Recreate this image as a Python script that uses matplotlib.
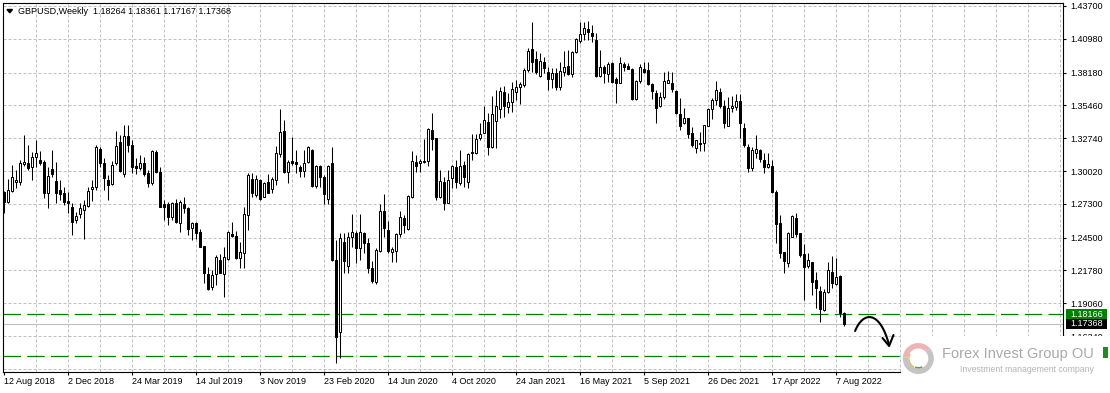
import numpy as np
import matplotlib.pyplot as plt
from matplotlib.patches import Rectangle, Wedge, Polygon, PathPatch
from matplotlib.path import Path
import matplotlib.transforms as mtransforms

W, H = 1110, 393

symbol = "GBPUSD,Weekly"

# weekly candles, first bar = week of 12 Aug 2018
opens = [
    1.2831, 1.2748, 1.2840, 1.2915, 1.2914, 1.3062, 1.3072, 1.3033, 1.3116, 1.3092,
    1.3074, 1.2823, 1.3019, 1.2920, 1.2845, 1.2823, 1.2754, 1.2701, 1.2596, 1.2643,
    1.2680, 1.2715, 1.2852, 1.2867, 1.3182, 1.3066, 1.2928, 1.2895, 1.3071, 1.3246,
    1.2978, 1.3290, 1.3218, 1.3044, 1.3030, 1.3066, 1.2989, 1.2906, 1.3160, 1.2997,
    1.2726, 1.2729, 1.2624, 1.2734, 1.2574, 1.2726, 1.2696, 1.2527, 1.2569, 1.2494,
    1.2381, 1.2149, 1.2038, 1.2146, 1.2265, 1.2149, 1.2270, 1.2478, 1.2464, 1.2284,
    1.2320, 1.2638, 1.2936, 1.2803, 1.2928, 1.2790, 1.2909, 1.2850, 1.2924, 1.3145,
    1.3334, 1.2997, 1.3085, 1.3080, 1.3038, 1.3002, 1.3074, 1.3177, 1.2881, 1.3044,
    1.2950, 1.2768, 1.3066, 1.2265, 1.1665, 1.2411, 1.2218, 1.2453, 1.2491, 1.2362,
    1.2486, 1.2403, 1.2200, 1.2080, 1.2342, 1.2671, 1.2514, 1.2331, 1.2342, 1.2478,
    1.2610, 1.2519, 1.2784, 1.3080, 1.3066, 1.3080, 1.3085, 1.3342, 1.3273, 1.2784,
    1.2914, 1.2740, 1.2942, 1.3033, 1.2900, 1.3052, 1.2914, 1.3160, 1.3149, 1.3273,
    1.3320, 1.3411, 1.3204, 1.3420, 1.3520, 1.3654, 1.3536, 1.3572, 1.3660, 1.3701,
    1.3715, 1.3840, 1.4014, 1.3931, 1.3793, 1.3903, 1.3826, 1.3765, 1.3812, 1.3701,
    1.3820, 1.3875, 1.3804, 1.3986, 1.4080, 1.4135, 1.4177, 1.4143, 1.4088, 1.3790,
    1.3867, 1.3806, 1.3895, 1.3765, 1.3729, 1.3889, 1.3873, 1.3848, 1.3599, 1.3751,
    1.3845, 1.3840, 1.3724, 1.3652, 1.3541, 1.3613, 1.3735, 1.3729, 1.3666, 1.3472,
    1.3398, 1.3439, 1.3320, 1.3190, 1.3237, 1.3237, 1.3375, 1.3514, 1.3591, 1.3655,
    1.3541, 1.3378, 1.3527, 1.3536, 1.3586, 1.3360, 1.3204, 1.3030, 1.3155, 1.3177,
    1.3094, 1.3038, 1.3047, 1.2826, 1.2569, 1.2328, 1.2237, 1.2458, 1.2610, 1.2486,
    1.2315, 1.2218, 1.2245, 1.2099, 1.2011, 1.1850, 1.1997, 1.2163, 1.2063, 1.2132,
    1.18264,
]
highs = [
    1.2840, 1.2935, 1.3050, 1.3010, 1.3094, 1.3300, 1.3215, 1.3160, 1.3258, 1.3165,
    1.3094, 1.3038, 1.3177, 1.3074, 1.2928, 1.2873, 1.2831, 1.2735, 1.2665, 1.2735,
    1.2762, 1.2870, 1.2925, 1.3218, 1.3204, 1.3107, 1.2969, 1.3088, 1.3337, 1.3300,
    1.3384, 1.3380, 1.3260, 1.3107, 1.3135, 1.3116, 1.3011, 1.3177, 1.3177, 1.3038,
    1.2762, 1.2748, 1.2748, 1.2768, 1.2762, 1.2784, 1.2707, 1.2583, 1.2583, 1.2519,
    1.2383, 1.2210, 1.2182, 1.2306, 1.2314, 1.2375, 1.2506, 1.2583, 1.2506, 1.2417,
    1.2707, 1.2983, 1.2983, 1.2969, 1.2936, 1.2914, 1.2976, 1.2955, 1.3212, 1.3514,
    1.3425, 1.3094, 1.3287, 1.3177, 1.3052, 1.3177, 1.3210, 1.3182, 1.3052, 1.3052,
    1.2969, 1.3052, 1.3199, 1.2431, 1.2486, 1.2486, 1.2494, 1.2643, 1.2508, 1.2646,
    1.2500, 1.2445, 1.2260, 1.2361, 1.2729, 1.2812, 1.2591, 1.2375, 1.2486, 1.2671,
    1.2638, 1.2804, 1.3171, 1.3135, 1.3102, 1.3268, 1.3356, 1.3486, 1.3273, 1.3011,
    1.2956, 1.3011, 1.3052, 1.3094, 1.3177, 1.3085, 1.3149, 1.3309, 1.3309, 1.3398,
    1.3541, 1.3480, 1.3620, 1.3674, 1.3701, 1.3705, 1.3650, 1.3743, 1.3757, 1.3743,
    1.3859, 1.4019, 1.4240, 1.3997, 1.3978, 1.3950, 1.3867, 1.3853, 1.3853, 1.3909,
    1.4000, 1.4005, 1.3997, 1.4107, 1.4240, 1.4235, 1.4248, 1.4213, 1.4143, 1.4005,
    1.3881, 1.3909, 1.3909, 1.3784, 1.3950, 1.3909, 1.3895, 1.3853, 1.3757, 1.3889,
    1.3909, 1.3909, 1.3729, 1.3674, 1.3660, 1.3826, 1.3834, 1.3826, 1.3674, 1.3605,
    1.3522, 1.3439, 1.3364, 1.3259, 1.3328, 1.3384, 1.3522, 1.3605, 1.3751, 1.3688,
    1.3591, 1.3619, 1.3624, 1.3638, 1.3638, 1.3400, 1.3226, 1.3204, 1.3301, 1.3182,
    1.3149, 1.3149, 1.3094, 1.2845, 1.2638, 1.2334, 1.2500, 1.2638, 1.2657, 1.2491,
    1.2400, 1.2326, 1.2251, 1.2168, 1.2049, 1.2022, 1.2251, 1.2301, 1.2279, 1.2141,
    1.18361,
]
lows = [
    1.2657, 1.2735, 1.2831, 1.2860, 1.2886, 1.3040, 1.3010, 1.2925, 1.3036, 1.3050,
    1.2776, 1.2693, 1.2955, 1.2735, 1.2762, 1.2721, 1.2652, 1.2472, 1.2569, 1.2610,
    1.2440, 1.2702, 1.2750, 1.2845, 1.3038, 1.2845, 1.2762, 1.2887, 1.3052, 1.2997,
    1.2955, 1.3160, 1.2983, 1.2978, 1.3011, 1.2961, 1.2867, 1.2886, 1.2983, 1.2700,
    1.2596, 1.2555, 1.2596, 1.2569, 1.2500, 1.2652, 1.2472, 1.2431, 1.2436, 1.2370,
    1.2071, 1.2016, 1.2016, 1.2058, 1.2154, 1.1955, 1.2265, 1.2458, 1.2270, 1.2196,
    1.2196, 1.2514, 1.2790, 1.2790, 1.2762, 1.2784, 1.2817, 1.2823, 1.2886, 1.3120,
    1.2989, 1.2900, 1.3052, 1.2983, 1.2950, 1.2955, 1.3066, 1.2873, 1.2859, 1.2873,
    1.2729, 1.2729, 1.2259, 1.1408, 1.1450, 1.2160, 1.2160, 1.2375, 1.2243, 1.2265,
    1.2320, 1.2160, 1.2075, 1.2066, 1.2334, 1.2458, 1.2320, 1.2251, 1.2251, 1.2458,
    1.2486, 1.2514, 1.2776, 1.2997, 1.2997, 1.3066, 1.3044, 1.3177, 1.2762, 1.2776,
    1.2679, 1.2735, 1.2859, 1.2859, 1.2886, 1.2873, 1.2859, 1.3094, 1.3140, 1.3260,
    1.3315, 1.3135, 1.3190, 1.3190, 1.3439, 1.3453, 1.3480, 1.3494, 1.3591, 1.3555,
    1.3701, 1.3820, 1.3826, 1.3804, 1.3784, 1.3812, 1.3674, 1.3688, 1.3674, 1.3674,
    1.3793, 1.3798, 1.3784, 1.3978, 1.4061, 1.4088, 1.4088, 1.4074, 1.3779, 1.3784,
    1.3729, 1.3743, 1.3735, 1.3563, 1.3729, 1.3834, 1.3845, 1.3591, 1.3591, 1.3735,
    1.3817, 1.3715, 1.3597, 1.3403, 1.3536, 1.3597, 1.3729, 1.3660, 1.3472, 1.3342,
    1.3392, 1.3273, 1.3204, 1.3154, 1.3171, 1.3171, 1.3375, 1.3431, 1.3550, 1.3522,
    1.3356, 1.3375, 1.3494, 1.3508, 1.3273, 1.3204, 1.2997, 1.3005, 1.3107, 1.3080,
    1.2983, 1.3025, 1.2817, 1.2403, 1.2279, 1.2154, 1.2210, 1.2453, 1.2458, 1.2292,
    1.1930, 1.2201, 1.1975, 1.1864, 1.1754, 1.1845, 1.1989, 1.2030, 1.2058, 1.1790,
    1.17167,
]
closes = [
    1.2748, 1.2845, 1.2956, 1.2925, 1.3066, 1.3075, 1.3030, 1.3116, 1.3150, 1.3070,
    1.2823, 1.2961, 1.2975, 1.2817, 1.2809, 1.2748, 1.2735, 1.2583, 1.2629, 1.2693,
    1.2722, 1.2837, 1.2872, 1.3199, 1.3072, 1.2942, 1.2887, 1.3052, 1.3210, 1.3002,
    1.3290, 1.3218, 1.3038, 1.3030, 1.3066, 1.2978, 1.2906, 1.3171, 1.2997, 1.2707,
    1.2707, 1.2624, 1.2734, 1.2583, 1.2743, 1.2693, 1.2519, 1.2569, 1.2491, 1.2375,
    1.2154, 1.2022, 1.2141, 1.2292, 1.2160, 1.2287, 1.2500, 1.2464, 1.2284, 1.2328,
    1.2643, 1.2969, 1.2817, 1.2933, 1.2770, 1.2906, 1.2823, 1.2935, 1.3150, 1.3323,
    1.2997, 1.3077, 1.3066, 1.3058, 1.3005, 1.3071, 1.3199, 1.2881, 1.3044, 1.2955,
    1.2809, 1.3044, 1.2265, 1.1629, 1.2444, 1.2259, 1.2458, 1.2494, 1.2362, 1.2494,
    1.2403, 1.2200, 1.2091, 1.2348, 1.2671, 1.2533, 1.2342, 1.2353, 1.2481, 1.2624,
    1.2555, 1.2795, 1.3085, 1.3044, 1.3085, 1.3085, 1.3348, 1.3268, 1.2790, 1.2919,
    1.2735, 1.2928, 1.3044, 1.2909, 1.3044, 1.2950, 1.3140, 1.3150, 1.3265, 1.3309,
    1.3425, 1.3204, 1.3472, 1.3544, 1.3665, 1.3544, 1.3572, 1.3682, 1.3701, 1.3721,
    1.3840, 1.3997, 1.3909, 1.3820, 1.3914, 1.3853, 1.3765, 1.3812, 1.3701, 1.3831,
    1.3867, 1.3804, 1.3986, 1.4096, 1.4135, 1.4185, 1.4157, 1.4124, 1.3790, 1.3867,
    1.3812, 1.3889, 1.3743, 1.3735, 1.3895, 1.3867, 1.3851, 1.3597, 1.3748, 1.3862,
    1.3826, 1.3724, 1.3668, 1.3522, 1.3613, 1.3748, 1.3757, 1.3679, 1.3486, 1.3375,
    1.3445, 1.3309, 1.3218, 1.3259, 1.3224, 1.3384, 1.3516, 1.3591, 1.3674, 1.3541,
    1.3398, 1.3527, 1.3541, 1.3583, 1.3403, 1.3215, 1.3030, 1.3177, 1.3182, 1.3099,
    1.3038, 1.3060, 1.2826, 1.2561, 1.2326, 1.2259, 1.2486, 1.2629, 1.2480, 1.2306,
    1.2210, 1.2265, 1.2085, 1.2030, 1.1859, 1.1997, 1.2182, 1.2071, 1.2121, 1.1823,
    1.17368,
]

# one date label every 16 weeks
date_labels = ["12 Aug 2018", "2 Dec 2018", "24 Mar 2019", "14 Jul 2019", "3 Nov 2019",
               "23 Feb 2020", "14 Jun 2020", "4 Oct 2020", "24 Jan 2021", "16 May 2021",
               "5 Sep 2021", "26 Dec 2021", "17 Apr 2022", "7 Aug 2022"]
price_ticks = [1.43700, 1.40980, 1.38180, 1.35460, 1.32740, 1.30020, 1.27300,
               1.24500, 1.21780, 1.19060, 1.16340]
extra_grid = [1.13620]
level_line = 1.18166
support_line = 1.14716

plt.rcParams['font.family'] = ['Liberation Sans', 'DejaVu Sans']
plt.rcParams['font.size'] = 6.5

o = np.array(opens)
h = np.array(highs)
l = np.array(lows)
c = np.array(closes)
idx = np.arange(len(o))
up = c >= o

fig = plt.figure(figsize=(W / 100, H / 100), dpi=100)
ax = fig.add_axes([2.5 / W, (H - 371.5) / H, 1060.5 / W, 369 / H])
ax.set_xlim(-0.25, 264.875)
ax.set_ylim(1.13407, 1.43990)

# grid
grid_kw = dict(color='#c0c0c0', lw=0.72, ls=(0, (3, 2)), zorder=0.5)
for p in price_ticks + extra_grid:
    ax.axhline(p, **grid_kw)
for i in range(8, 265, 8):
    ax.axvline(i, **grid_kw)

# levels
ax.axhline(level_line, color='#008000', lw=0.9, ls=(0, (14, 5)), zorder=1)
ax.axhline(support_line, color='#008000', lw=0.9, ls=(0, (14, 5)), zorder=1)
ax.axhline(c[-1], color='#c0c0c0', lw=0.8, zorder=1)

# candles
ax.vlines(idx, l, h, color='black', lw=0.75, zorder=2)
ax.bar(idx, np.maximum(np.abs(c - o), 0.00008), bottom=np.minimum(o, c), width=0.5,
       color=np.where(up, 'white', 'black'), edgecolor='black', lw=0.72, zorder=3)

# axes
ax.yaxis.tick_right()
ax.set_yticks(price_ticks)
ax.set_yticklabels([f"{p:.5f}" for p in price_ticks])
ax.set_xticks(np.arange(len(date_labels)) * 16)
ax.set_xticklabels(date_labels, ha='left')
ax.tick_params(axis='x', length=2.2, width=0.8, pad=1.5)
ax.tick_params(axis='y', length=2.2, width=0.8, pad=3.0)
for s in ax.spines.values():
    s.set_linewidth(0.8)
    s.set_color('black')

# price boxes on the right scale
bt = mtransforms.blended_transform_factory(ax.transAxes, ax.transData)
px = 1 / 1060.5
box_h = 10 * 0.0008288
for price, col in [(level_line, '#008000'), (c[-1], 'black')]:
    ax.add_patch(Rectangle((1 + 3 * px, price - box_h / 2), 41 * px, box_h, transform=bt,
                           facecolor=col, edgecolor='none', clip_on=False, zorder=5))
    ax.text(1 + 7.5 * px, price, f"{price:.5f}", transform=bt, color='white',
            va='center', ha='left', fontsize=6.5, clip_on=False, zorder=6)

# hand drawn arrow
curve = Path([(212.9, 1.16764), (214.9, 1.18422), (219.1, 1.18505), (221.4, 1.15604)],
             [Path.MOVETO, Path.CURVE4, Path.CURVE4, Path.CURVE4])
ax.add_patch(PathPatch(curve, fill=False, lw=1.5, edgecolor='black', capstyle='round', zorder=6))
ax.plot([219.75, 221.4, 222.5], [1.16183, 1.15521, 1.16432], color='black', lw=1.5,
        solid_capstyle='round', solid_joinstyle='round', zorder=6)

# title
fig.text(18 / W, 1 - 11.5 / H,
         f"{symbol}  {opens[-1]:.5f} {highs[-1]:.5f} {lows[-1]:.5f} {closes[-1]:.5f}",
         va='center', ha='left', fontsize=6.5)
fig.add_artist(Polygon([[7 / W, 1 - 9.5 / H], [12.5 / W, 1 - 9.5 / H], [9.75 / W, 1 - 12.8 / H]],
                       closed=True, transform=fig.transFigure, color='black'))

# watermark panel
fig.add_artist(Rectangle((900.5 / W, 0), (W - 900.5) / W, (H - 336) / H, transform=fig.transFigure,
                         facecolor='white', edgecolor='none', zorder=10))
tr = fig.dpi_scale_trans
cx, cy = 9.183, (H - 358.5) / 100
fig.add_artist(Wedge((cx, cy), 0.155, 40, 175, width=0.055, transform=tr,
                     facecolor='#ebb5b5', edgecolor='none', zorder=11))
fig.add_artist(Wedge((cx, cy), 0.155, 175, 400, width=0.055, transform=tr,
                     facecolor='#c4c4c4', edgecolor='none', zorder=11))
fig.add_artist(Wedge((cx, cy), 0.10, 150, 245, width=0.012, transform=tr,
                     facecolor='#c9c24a', edgecolor='none', zorder=12))
fig.add_artist(Wedge((cx, cy), 0.10, 250, 295, width=0.015, transform=tr,
                     facecolor='#5c9e3c', edgecolor='none', zorder=12))
fig.text(941.5 / W, 1 - 354 / H, "Forex Invest Group OU", color='#a9a9a9', fontsize=10.5,
         va='center', ha='left', zorder=12)
fig.text(960 / W, 1 - 369.5 / H, "Investment management company", color='#b5b5b5',
         fontsize=6.3, va='center', ha='left', zorder=12)
fig.add_artist(Rectangle((1103 / W, 1 - 358 / H), 5 / W, 11 / H, transform=fig.transFigure,
                         facecolor='#1e8c1e', edgecolor='none', zorder=11))

fig.savefig("out.png", dpi=100)
